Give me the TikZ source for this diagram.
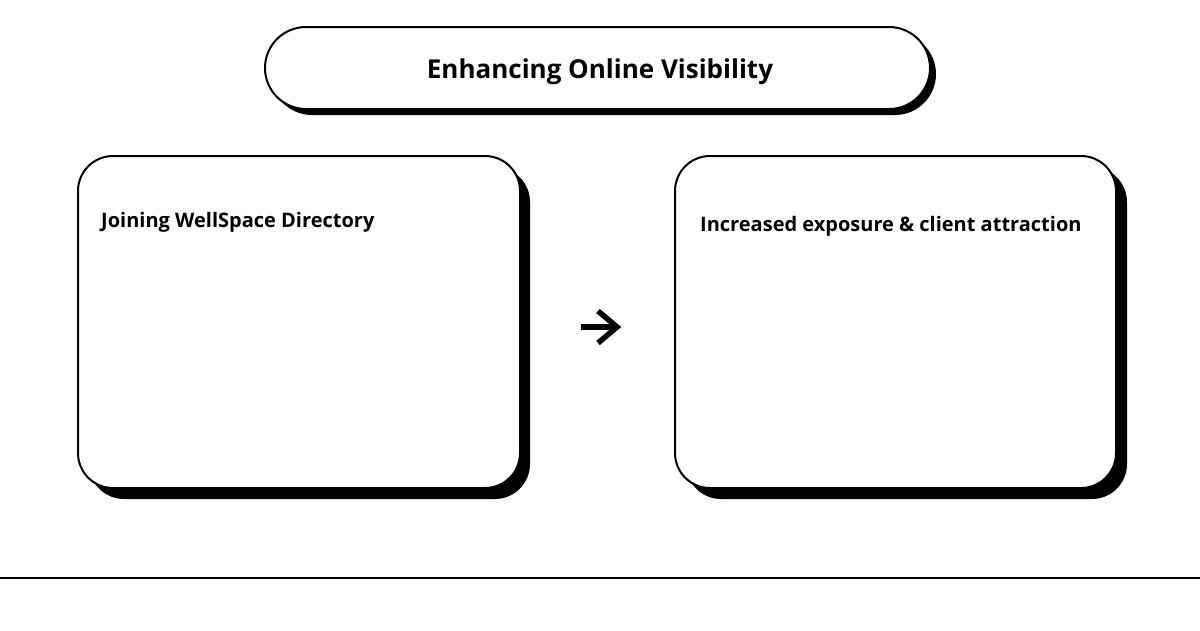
\documentclass[tikz,border=0pt]{standalone}
\usepackage{fontspec}
\setmainfont{Open Sans}
\begin{document}
\begin{tikzpicture}[x=1pt,y=-1pt,
  card/.style={draw=black,line width=2pt,fill=white},
  shadowbox/.style={fill=black},
  lbl/.style={font=\bfseries\fontsize{20}{24}\selectfont,anchor=base west,inner sep=0pt},
  ttl/.style={font=\bfseries\fontsize{26}{30}\selectfont,anchor=base,inner sep=0pt}]
\useasboundingbox[fill=white] (0,0) rectangle (1200,630);
% title
\fill[shadowbox,rounded corners=41pt] (271,33) rectangle (936,115);
\draw[card,rounded corners=41pt] (265,27) rectangle (930,109);
\node[ttl] (title) at (600,78) {Enhancing Online Visibility};
% left card
\fill[shadowbox,rounded corners=35pt] (89,167) rectangle (530,499);
\draw[card,rounded corners=35pt] (78,156) rectangle (520,488);
\node[lbl] (left) at (101,227) {Joining WellSpace Directory};
% right card
\fill[shadowbox,rounded corners=35pt] (686,167) rectangle (1127,499);
\draw[card,rounded corners=35pt] (675,156) rectangle (1116,488);
\node[lbl] (right) at (700,231) {Increased exposure \& client attraction};
% arrow glyph
\coordinate (a1) at (581,327);
\coordinate (a2) at (617,327);
\draw[line width=5.5pt] (a1) -- (a2);
\draw[line width=5.5pt,miter limit=10] (598,311) -- (a2) -- (598,343);
% bottom rule
\coordinate (r1) at (0,578);
\coordinate (r2) at (1200,578);
\draw[line width=1.6pt] (r1) -- (r2);
\end{tikzpicture}
\end{document}
